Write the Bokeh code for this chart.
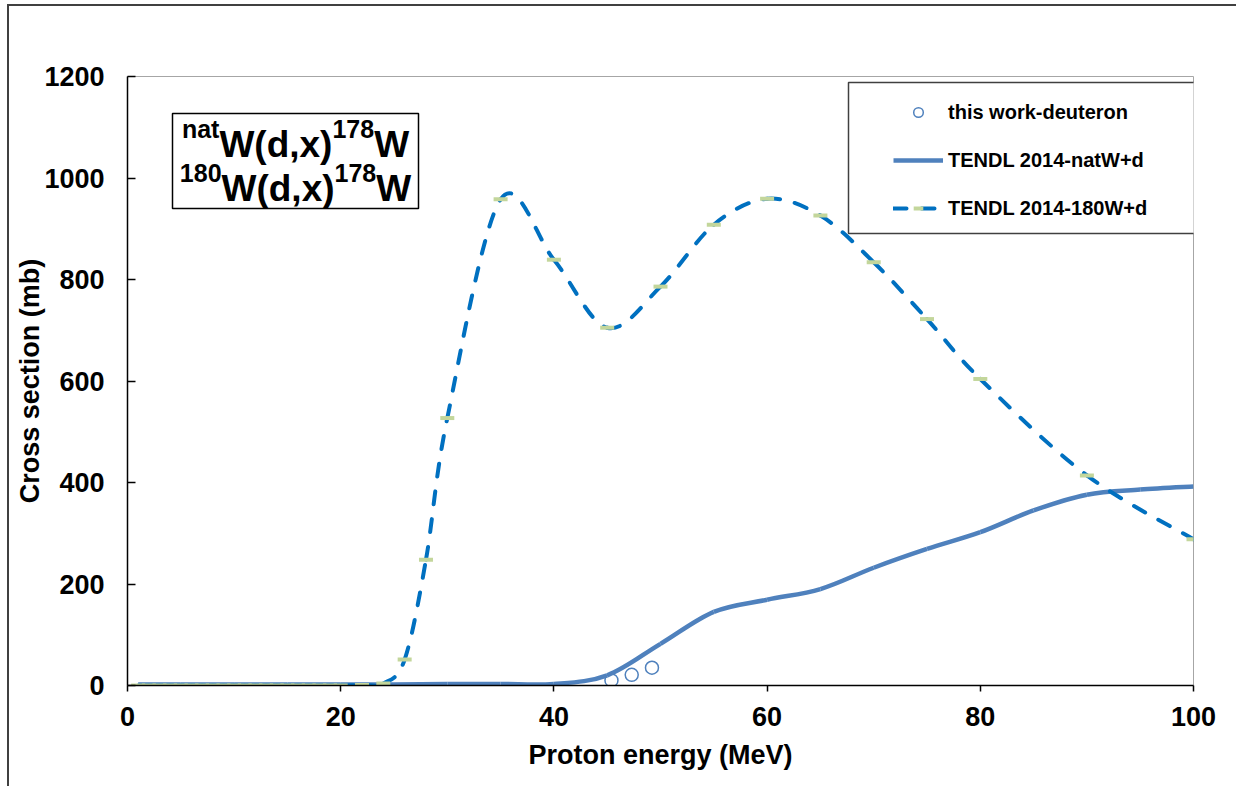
import numpy as np
from bokeh.plotting import figure
from bokeh.models import (Range1d, Label, BoxAnnotation, Legend, LegendItem, FixedTicker)
from bokeh.embed import file_html
from bokeh.resources import INLINE

# ---------------- data ----------------
# measured points ("this work-deuteron")
e_exp = [45.4, 47.3, 49.2]
s_exp = [10, 21, 35]

# TENDL 2014 natW+d (solid line)
e_nat = [1, 5, 10, 15, 20, 25, 30, 35, 40, 45, 50, 55, 60, 65, 70, 75, 80, 85, 90, 95, 100]
s_nat = [2, 2, 2, 2, 2, 2, 3, 3, 3, 20, 82, 145, 169, 190, 232, 269, 302, 345, 376, 386, 392]

# TENDL 2014 180W+d (dashed line with markers)
e_180 = [1, 2, 3, 4, 5, 6, 7, 8, 9, 10, 11, 12, 13, 14, 15, 16, 17, 18, 19, 20,
         22, 24, 26, 28, 30, 35, 40, 45, 50, 55, 60, 65, 70, 75, 80, 90, 100]
s_180 = [0, 0, 0, 0, 0, 0, 0, 0, 0, 0, 0, 0, 0, 0, 0, 0, 0, 0, 0, 0,
         1, 4, 51, 248, 527, 958, 839, 705, 786, 908, 959, 926, 834, 722, 604, 414, 288]

x_ticks = [0, 20, 40, 60, 80, 100]
y_ticks = [0, 200, 400, 600, 800, 1000, 1200]

legend_labels = ["this work-deuteron", "TENDL 2014-natW+d", "TENDL 2014-180W+d"]
x_title = "Proton energy (MeV)"
y_title = "Cross section (mb)"

# ---------------- helpers ----------------
def smooth_segments(x, y):
    """Bezier control points (Excel-like smoothed line) for consecutive data points."""
    x = np.asarray(x, float)
    y = np.asarray(y, float)
    n = len(x)
    xp = np.concatenate([[x[0]], x, [x[-1]]])
    yp = np.concatenate([[y[0]], y, [y[-1]]])
    return dict(
        x0=x[:-1], y0=y[:-1], x1=x[1:], y1=y[1:],
        cx0=xp[1:n] + (xp[2:n + 1] - xp[0:n - 1]) / 6.0,
        cy0=yp[1:n] + (yp[2:n + 1] - yp[0:n - 1]) / 6.0,
        cx1=xp[2:n + 1] - (xp[3:n + 2] - xp[1:n]) / 6.0,
        cy1=yp[2:n + 1] - (yp[3:n + 2] - yp[1:n]) / 6.0,
    )

FONT = "Liberation Sans"
C_NAT = "#4F81BD"
C_180 = "#0070C0"
C_MARK = "#C3D69B"
C_FRAME = "#404040"

# outer chart-area frame (left and top edges) drawn as page background behind a transparent canvas border
frame_css = (f"linear-gradient({C_FRAME},{C_FRAME}) 7px 4px / 2px 100% no-repeat, "
             f"linear-gradient({C_FRAME},{C_FRAME}) 7px 4px / 100% 2px no-repeat, white")

p = figure(width=1236, height=786, x_range=Range1d(0, 100), y_range=Range1d(0, 1200),
           output_backend="svg", toolbar_location=None,
           min_border_left=127, min_border_right=43, min_border_top=76, min_border_bottom=101,
           styles={"background": frame_css})
p.background_fill_color = "white"
p.border_fill_alpha = 0
p.outline_line_color = "#a6a6a6"
p.outline_line_width = 1
p.xgrid.grid_line_color = None
p.ygrid.grid_line_color = None

p.xaxis.ticker = FixedTicker(ticks=x_ticks)
p.yaxis.ticker = FixedTicker(ticks=y_ticks)
for ax in (p.xaxis, p.yaxis):
    ax.minor_tick_line_color = None
    ax.axis_line_color = "black"
    ax.axis_line_width = 1.5
    ax.major_tick_line_color = "black"
    ax.major_tick_line_width = 1.5
    ax.major_label_text_font = FONT
    ax.major_label_text_font_style = "bold"
    ax.major_label_text_font_size = "27px"
    ax.major_label_text_color = "black"
    ax.axis_label_text_font = FONT
    ax.axis_label_text_font_style = "bold"
    ax.axis_label_text_font_size = "27px"
    ax.axis_label_text_color = "black"
p.xaxis.major_tick_in = 0
p.xaxis.major_tick_out = 6
p.xaxis.major_label_standoff = 15
p.yaxis.major_tick_in = 8
p.yaxis.major_tick_out = 0
p.yaxis.major_label_standoff = 23
p.xaxis.axis_label = x_title
p.yaxis.axis_label = y_title
p.xaxis.axis_label_standoff = 11
p.yaxis.axis_label_standoff = -4

# ---------------- series ----------------
r_exp = p.scatter(e_exp, s_exp, marker="circle", size=13, line_color=C_NAT,
                  line_width=1.5, fill_alpha=0)
p.bezier(**smooth_segments(e_nat, s_nat), line_color=C_NAT, line_width=4.5)
p.bezier(**smooth_segments(e_180, s_180), line_color=C_180, line_width=4,
         line_dash="13 15", line_cap="round")
p.scatter(e_180, s_180, marker="dash", size=14, line_color=C_MARK, line_width=4)

# legend proxies (a single undefined point, never visible in the plot)
leg_nat = p.line(x=[np.nan], y=[np.nan], line_color=C_NAT, line_width=4.5)
leg_180 = p.line(x=[np.nan], y=[np.nan], line_color=C_180, line_width=4,
                 line_dash="13 15", line_cap="round")
leg_mark = p.scatter(x=[np.nan], y=[np.nan], marker="dash", size=14,
                     line_color=C_MARK, line_width=4)

# ---------------- legend ----------------
p.add_layout(BoxAnnotation(left=848, right=1196, top=82, bottom=233,
                           left_units="canvas", right_units="canvas",
                           top_units="canvas", bottom_units="canvas",
                           fill_color="white", fill_alpha=1,
                           line_color=C_FRAME, line_alpha=1, line_width=1.5,
                           line_dash="solid"))
legend = Legend(items=[LegendItem(label=legend_labels[0], renderers=[r_exp]),
                       LegendItem(label=legend_labels[1], renderers=[leg_nat]),
                       LegendItem(label=legend_labels[2], renderers=[leg_180, leg_mark])],
                location=(766, 465), orientation="vertical", padding=0, margin=0,
                spacing=24, glyph_width=50, glyph_height=24, label_height=24,
                label_standoff=5, border_line_alpha=0, background_fill_alpha=0,
                label_text_font=FONT, label_text_font_style="bold",
                label_text_font_size="20px", label_text_baseline="middle",
                label_text_color="black")
p.add_layout(legend)

# ---------------- reaction box ----------------
p.add_layout(BoxAnnotation(left=172, right=418, top=113, bottom=208,
                           left_units="canvas", right_units="canvas",
                           top_units="canvas", bottom_units="canvas",
                           fill_color="white", fill_alpha=1,
                           line_color="black", line_alpha=1, line_width=1.5,
                           line_dash="solid"))

ADV = {'n': 611, 'a': 556, 't': 333, 'W': 944, '(': 333, 'd': 611, ',': 278,
       'x': 556, ')': 333, '0': 556, '1': 556, '7': 556, '8': 556}

def tw(s, size):
    return sum(ADV[c] for c in s) / 1000.0 * size

BIG, SUP = 37, 25
box_lines = [([("nat", SUP), ("W(d,x)", BIG), ("178", SUP), ("W", BIG)], 144),
             ([("180", SUP), ("W(d,x)", BIG), ("178", SUP), ("W", BIG)], 188)]
for parts, base in box_lines:
    total = sum(tw(s, sz) for s, sz in parts)
    xx = 295 - total / 2.0
    for s, sz in parts:
        yy = base if sz == BIG else base - 16
        p.add_layout(Label(x=xx, y=yy, x_units="canvas", y_units="canvas", text=s,
                           text_font=FONT, text_font_style="bold",
                           text_font_size=f"{sz}px", text_color="black",
                           text_align="left", text_baseline="alphabetic"))
        xx += tw(s, sz)

open("out.html", "w").write(file_html(p, INLINE))
